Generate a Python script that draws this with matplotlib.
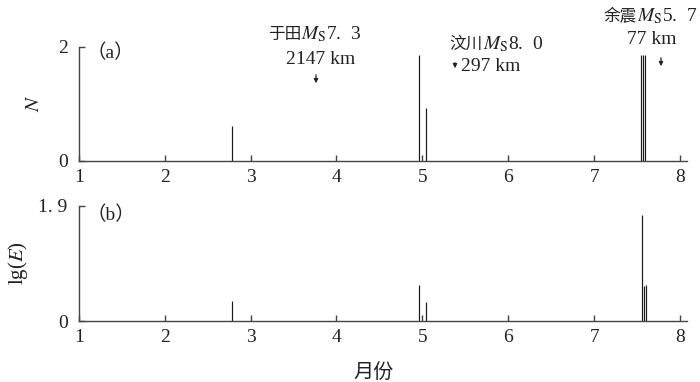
import matplotlib
matplotlib.use("Agg")
import matplotlib.pyplot as plt

plt.rcParams['font.family'] = ['Liberation Serif', 'Noto Sans CJK SC']
plt.rcParams['mathtext.fontset'] = 'stix'

# data
n_months = [2.783, 4.964, 5.037, 7.545, 7.568, 7.591]
n_values = [0.61, 1.85, 0.92, 1.85, 1.85, 1.85]
e_months = [2.783, 4.964, 5.037, 7.552, 7.575, 7.598]
e_values = [0.33, 0.6, 0.32, 1.75, 0.58, 0.6]
xticks = [1, 2, 3, 4, 5, 6, 7, 8]

col = '#444444'
tc = '#222222'
W, H = 700, 382
fig = plt.figure(figsize=(7.0, 3.82), dpi=100)
ax1 = fig.add_axes([78.7 / W, 1 - 160.7 / H, 608.3 / W, 114.0 / H])
ax2 = fig.add_axes([78.7 / W, 1 - 321.0 / H, 608.3 / W, 115.3 / H])

for ax, xs, ys, top, yl in [(ax1, n_months, n_values, 2, '2'),
                            (ax2, e_months, e_values, 1.9, '1. 9')]:
    ax.vlines(xs, 0, ys, colors='#1a1a1a', linewidth=0.85)
    ax.set_xlim(1.04, 8.08)
    ax.set_ylim(0, top)
    for s in ['top', 'right']:
        ax.spines[s].set_visible(False)
    for s in ['left', 'bottom']:
        ax.spines[s].set_color(col)
        ax.spines[s].set_linewidth(1.0)
    ax.set_xticks(xticks)
    ax.set_xticklabels([str(t) for t in xticks])
    ax.set_yticks([0, top])
    ax.set_yticklabels(['0', yl])
    ax.tick_params(direction='in', length=4.5, width=1.0, color=col, labelsize=14,
                   labelcolor=tc)
    ax.tick_params(axis='y', pad=8)
    ax.tick_params(axis='x', pad=6)

ax1.set_ylabel('$N$', fontsize=15, color=tc, labelpad=10)
ax2.set_ylabel('lg($E$)', fontsize=15, color=tc, labelpad=6)


def fx(px):
    return px / W


def fy(py):
    return 1 - py / H


cjk = ['Noto Sans CJK SC']
mixed = ['Liberation Serif', 'Noto Sans CJK SC']
fig.text(fx(374), fy(372), '月份', fontsize=14.5, family=cjk, color=tc, ha='center', va='center')

# panel labels
fig.text(fx(86), fy(53), '（a）', fontsize=14, family=mixed, color=tc, ha='left', va='center')
fig.text(fx(86), fy(215), '（b）', fontsize=14, family=mixed, color=tc, ha='left', va='center')


def label(split_px, base_py, cn, rest):
    fig.text(fx(split_px), fy(base_py), cn, fontsize=12, family=cjk, color=tc,
             ha='right', va='baseline')
    fig.text(fx(split_px), fy(base_py), rest, fontsize=14, color=tc,
             ha='left', va='baseline')


def arrow(px, py0, py1):
    fig.patches.append(matplotlib.patches.FancyArrowPatch(
        (fx(px), fy(py0)), (fx(px), fy(py1)), transform=fig.transFigure,
        arrowstyle='-|>', mutation_scale=6, color=tc, lw=0.9))


label(301, 39, '于田', '$M_{\\rm S}$7.  3')
fig.text(fx(321), fy(64), '2147 km', fontsize=14, color=tc, ha='center', va='baseline')
arrow(316, 72, 86)

label(483, 49, '汶川', '$M_{\\rm S}$8.  0')
fig.text(fx(461), fy(71), '297 km', fontsize=14, color=tc, ha='left', va='baseline')
arrow(455, 60, 71)

label(637, 21, '余震', '$M_{\\rm S}$5.  7')
fig.text(fx(652), fy(44), '77 km', fontsize=14, color=tc, ha='center', va='baseline')
arrow(661, 55, 69)

fig.savefig('out.png', dpi=100)
